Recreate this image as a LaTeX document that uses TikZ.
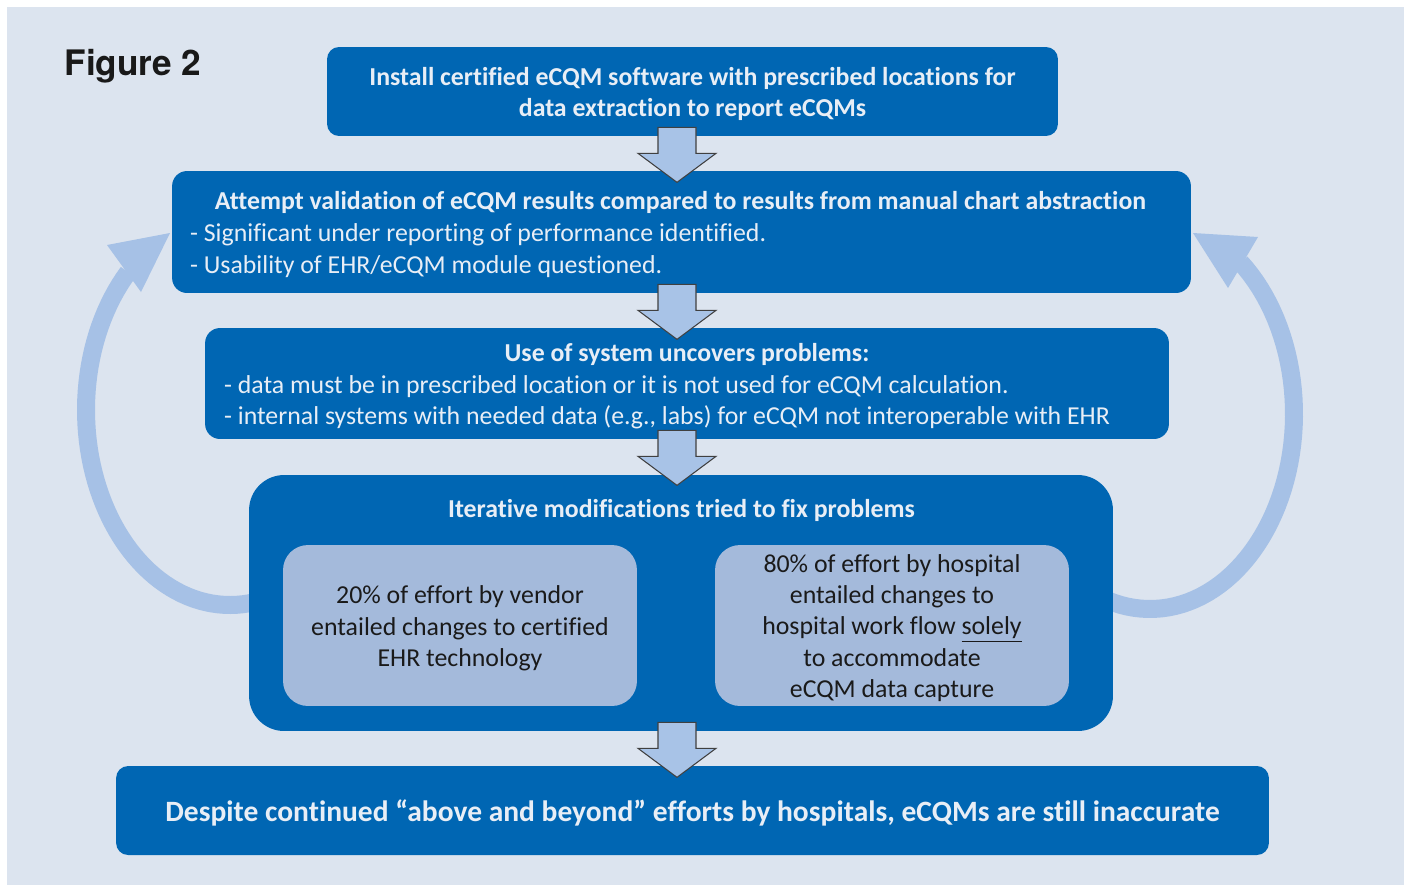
\documentclass[tikz,border=0pt]{standalone}
\usepackage{fontspec}
\setmainfont{Carlito}[Ligatures=CommonOff]
\newfontfamily\figfont{TeX Gyre Heros}
\usetikzlibrary{calc}
\definecolor{boxblue}{HTML}{0066B3}
\definecolor{panelgrey}{HTML}{DCE4EF}
\definecolor{loopblue}{HTML}{A6C1E6}
\definecolor{arrowblue}{HTML}{A8C3E7}
\definecolor{innerblue}{HTML}{A4BADB}
\definecolor{boxtext}{HTML}{E8EEF6}
\definecolor{inktext}{HTML}{1A1A1A}
\tikzset{
    bluebox/.style={
        rectangle,
        rounded corners=0.24cm,
        fill=boxblue,
        inner sep=0pt
    },
    innerbox/.style={
        rectangle,
        rounded corners=0.5cm,
        fill=innerblue,
        inner sep=0pt
    },
    headtext/.style={text=boxtext, align=center, inner sep=0pt, font={\fontsize{14.7pt}{17.8pt}\selectfont\bfseries}},
    listtext/.style={text=boxtext, align=left, inner sep=0pt, anchor=west},
    innertext/.style={text=inktext, align=center, inner sep=0pt},
    looparrow/.style={draw=loopblue, line width=0.36cm},
    loophead/.style={fill=loopblue},
    downarrow/.style={fill=arrowblue, draw=black!75, line width=0.6pt, line join=miter},
    font={\fontsize{14.7pt}{17.8pt}\selectfont},
}

\begin{document}
\begin{tikzpicture}[x=0.02cm, y=-0.02cm]
\useasboundingbox (0,0) rectangle (1408,886);
\fill[panelgrey] (7,7) rectangle (1404,885);

\node[font=\figfont\bfseries\fontsize{20pt}{24pt}\selectfont, text=black!90, inner sep=0pt] (figlabel) at (133,66) {Figure 2};

% feedback loops on both sides
\draw[looparrow] plot[domain=80:225, samples=60] ({230+144*cos(\x)},{410+195*sin(\x)});
\fill[loophead] (170,233) -- (107,245) -- (141,292) -- cycle;
\draw[looparrow] plot[domain=110:-51, samples=60] ({1150+144*cos(\x)},{414+195*sin(\x)});
\fill[loophead] (1193,233) -- (1258,237) -- (1228,288) -- cycle;

\node[bluebox, minimum width=14.62cm, minimum height=1.78cm] (install) at (692.5,91.5) {};
\node[headtext] (install-text) at ($(install)+(0,2.5)$)
    {Install certified eCQM software with prescribed locations for\\data extraction to report eCQMs};

\node[bluebox, rounded corners=0.3cm, minimum width=20.38cm, minimum height=2.44cm] (validate) at (681.5,232) {};
\node[headtext] (validate-head) at ($(validate.north)+(-1,32)$)
    {Attempt validation of eCQM results compared to results from manual chart abstraction};
\node[listtext] (validate-list) at ($(validate.west)+(18,18.5)$)
    {- Significant under reporting of performance identified.\\- Usability of EHR/eCQM module questioned.};

\node[bluebox, rounded corners=0.3cm, minimum width=19.28cm, minimum height=2.22cm] (problems) at (687,383.5) {};
\node[headtext] (problems-head) at ($(problems.north)+(0,27)$) {Use of system uncovers problems:};
\node[listtext] (problems-list) at ($(problems.west)+(19,19)$)
    {- data must be in prescribed location or it is not used for eCQM calculation.\\- internal systems with needed data (e.g., labs) for eCQM not interoperable with EHR};

\node[bluebox, rounded corners=0.7cm, minimum width=17.28cm, minimum height=5.12cm] (iterate) at (681,603) {};
\node[headtext] (iterate-head) at ($(iterate.north)+(0.5,36)$) {Iterative modifications tried to fix problems};
\node[innerbox, minimum width=7.08cm, minimum height=3.22cm] (vendor) at (460,625.5) {};
\node[innertext] (vendor-text) at ($(vendor)+(0,3)$)
    {20\% of effort by vendor\\entailed changes to certified\\EHR technology};
\node[innerbox, minimum width=7.08cm, minimum height=3.22cm] (hospital) at (892,625.5) {};
\node[innertext] (hospital-text) at ($(hospital)+(0,2.5)$)
    {80\% of effort by hospital\\entailed changes to\\hospital work flow \underline{solely}\\to accommodate\\eCQM data capture};

\node[bluebox, minimum width=23.06cm, minimum height=1.78cm] (despite) at (692.5,810.5) {};
\node[headtext, font={\fontsize{16.8pt}{20pt}\selectfont\bfseries}] (despite-text) at ($(despite)+(0,2.5)$)
    {Despite continued “above and beyond” efforts by hospitals, eCQMs are still inaccurate};

% block arrows between the steps
\coordinate (axis) at (677,0);
\foreach \upper in {install,validate,problems,iterate} {
    \coordinate (b) at (\upper.south -| axis);
    \filldraw[downarrow] ($(b)+(-19,-9)$) -- ($(b)+(19,-9)$) -- ($(b)+(19,17)$) -- ($(b)+(39,17)$)
        -- ($(b)+(0,46)$) -- ($(b)+(-39,17)$) -- ($(b)+(-19,17)$) -- cycle;
}
\end{tikzpicture}
\end{document}
